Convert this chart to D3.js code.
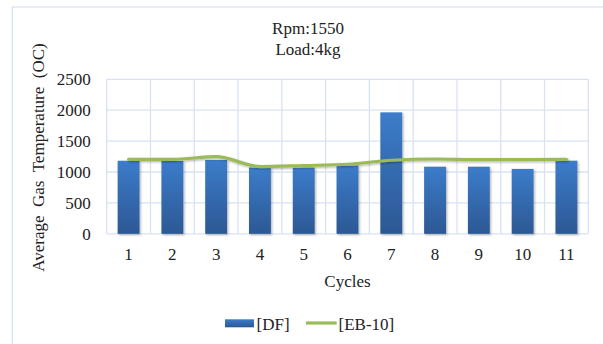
<!DOCTYPE html>
<html><head><meta charset="utf-8">
<script src="https://cdn.jsdelivr.net/npm/d3@7/dist/d3.min.js"></script>
<style>
html,body{margin:0;padding:0;background:#fff;}
svg{display:block;}
text{font-family:"Liberation Serif","Times New Roman",serif;fill:#222;}
</style></head>
<body>
<svg id="c" width="603" height="344"></svg>
<script>
const cycles = ["1","2","3","4","5","6","7","8","9","10","11"];
const dfValues = [1182, 1180, 1194, 1072, 1070, 1104, 1965, 1086, 1086, 1050, 1183];
const eb10Values = [1205, 1205, 1248, 1088, 1105, 1125, 1190, 1210, 1200, 1200, 1205];
const yTicks = [0, 500, 1000, 1500, 2000, 2500];
const titleLines = ["Rpm:1550", "Load:4kg"];
const seriesNames = ["[DF]", "[EB-10]"];

const svg = d3.select("#c");
const W = 603, H = 344;
const plot = {l: 106.7, t: 79.3, r: 588.3, b: 233.8};
const gridColor = "#d8e3f2";

const defs = svg.append("defs");
const grad = defs.append("linearGradient").attr("id","barGrad").attr("x1",0).attr("y1",0).attr("x2",0).attr("y2",1);
grad.append("stop").attr("offset","0%").attr("stop-color","#3c7cca");
grad.append("stop").attr("offset","100%").attr("stop-color","#2c5894");
const f = defs.append("filter").attr("id","shadow").attr("x","-20%").attr("y","-20%").attr("width","150%").attr("height","150%");
f.append("feDropShadow").attr("dx",1.2).attr("dy",1.2).attr("stdDeviation",1).attr("flood-color","#000").attr("flood-opacity",0.3);

// outer chart border
svg.append("rect").attr("x",12.3).attr("y",7).attr("width",W).attr("height",H)
  .attr("fill","none").attr("stroke",gridColor).attr("stroke-width",1.3);

const x = d3.scaleBand().domain(cycles).range([plot.l, plot.r]).paddingInner(0.5).paddingOuter(0.25);
const xg = d3.scaleBand().domain(cycles).range([plot.l, plot.r]).padding(0);
const y = d3.scaleLinear().domain([0, 2500]).range([plot.b, plot.t]);

// gridlines
const g = svg.append("g");
g.selectAll("line.h").data(yTicks).join("line")
  .attr("x1",plot.l).attr("x2",plot.r).attr("y1",d=>y(d)).attr("y2",d=>y(d))
  .attr("stroke",gridColor).attr("stroke-width",1.3);
const vlines = cycles.map(c=>xg(c)).concat([plot.r]);
g.selectAll("line.v").data(vlines).join("line")
  .attr("x1",d=>d).attr("x2",d=>d).attr("y1",plot.t).attr("y2",plot.b)
  .attr("stroke",gridColor).attr("stroke-width",1.3);

// bars
svg.append("g").selectAll("rect").data(dfValues).join("rect")
  .attr("x",(d,i)=>x(cycles[i])).attr("width",x.bandwidth())
  .attr("y",d=>y(d)).attr("height",d=>y(0)-y(d))
  .attr("fill","url(#barGrad)").attr("filter","url(#shadow)");

// line
const line = d3.line().x((d,i)=>x(cycles[i])+x.bandwidth()/2).y(d=>y(d)).curve(d3.curveMonotoneX);
svg.append("path").datum(eb10Values).attr("d",line)
  .attr("fill","none").attr("stroke","#9bbb59").attr("stroke-width",3.2)
  .attr("stroke-linejoin","round").attr("stroke-linecap","round").attr("filter","url(#shadow)");

// y tick labels
svg.append("g").selectAll("text").data(yTicks).join("text")
  .attr("x",plot.l-16).attr("y",d=>y(d)+6).attr("text-anchor","end")
  .attr("font-size",17).text(d=>d);

// x tick labels
svg.append("g").selectAll("text").data(cycles).join("text")
  .attr("x",d=>x(d)+x.bandwidth()/2).attr("y",260).attr("text-anchor","middle")
  .attr("font-size",17).text(d=>d);

// title
svg.append("g").selectAll("text").data(titleLines).join("text")
  .attr("x",308).attr("y",(d,i)=>34.3+i*21).attr("text-anchor","middle")
  .attr("font-size",17).text(d=>d);

// axis titles
svg.append("text").attr("x",(plot.l+plot.r)/2).attr("y",286.5).attr("text-anchor","middle")
  .attr("font-size",17).text("Cycles");
svg.append("text").attr("transform","translate(44,157.5) rotate(-90)").attr("text-anchor","middle")
  .attr("font-size",17).style("white-space","pre").text("Average  Gas  Temperature  (OC)");

// legend
svg.append("rect").attr("x",225).attr("y",319.3).attr("width",29).attr("height",8)
  .attr("fill","url(#barGrad)");
svg.append("text").attr("x",256.5).attr("y",329.5).attr("font-size",17).text(seriesNames[0]);
svg.append("line").attr("x1",306).attr("x2",336.7).attr("y1",323).attr("y2",323)
  .attr("stroke","#9bbb59").attr("stroke-width",3.2);
svg.append("text").attr("x",338.5).attr("y",329.5).attr("font-size",17).text(seriesNames[1]);
</script>
</body></html>
